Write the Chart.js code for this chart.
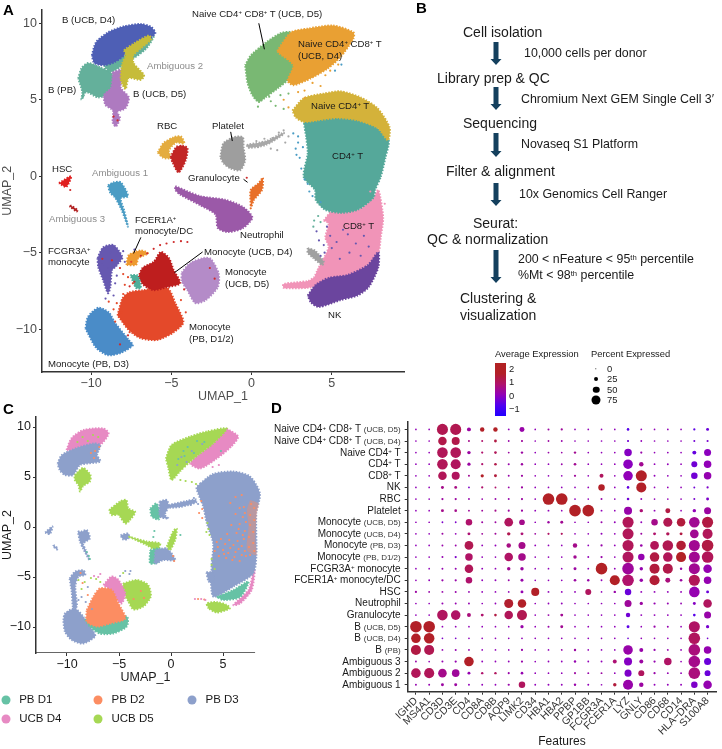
<!DOCTYPE html>
<html>
<head>
<meta charset="utf-8">
<script src="https://cdn.jsdelivr.net/npm/chart.js@4"></script>
<style>
  html, body { margin: 0; padding: 0; background: #fff; }
  #fig { position: relative; width: 722px; height: 749px; overflow: hidden; font-family: "Liberation Sans", Arial, sans-serif; color: #1a1a1a; }
  canvas { position: absolute; }
  #chartA { left: 0; top: 0; }
  #chartC { left: 0; top: 405px; }
  #chartD { left: 380px; top: 415px; }
  .t { position: absolute; white-space: nowrap; line-height: 1; transform: translateY(-50%); }
  .t sup { font-size: 62%; line-height: 0; vertical-align: baseline; position: relative; top: -0.45em; }
  .a { font-size: 9.6px; }
  .g { color: #8c8c8c; }
  .m { font-size: 14px; }
  .s { font-size: 12.4px; }
  .p { font-size: 15px; font-weight: bold; color: #000; }
  .r { font-size: 10px; transform: translate(-100%, -50%); }
  .r small { font-size: 8px; color: #333; }
  .l { font-size: 9.4px; }
  .dot { position: absolute; border-radius: 50%; transform: translate(-50%, -50%); }
  svg { position: absolute; left: 0; top: 0; }
</style>
</head>
<body>
<div id="fig">
  <canvas id="chartA" width="410" height="405"></canvas>
  <canvas id="chartC" width="270" height="285"></canvas>
  <canvas id="chartD" width="342" height="334"></canvas>
  <svg id="arrows" width="722" height="340"></svg>
  <div id="labels"></div>
</div>
<script>
// ===== PANEL A: cluster outlines in UMAP units =====
const bUcbD4 = [[-9.95,7.9],[-9.7,8.75],[-8.95,9.4],[-7.95,9.8],[-6.9,9.95],[-6.25,9.75],[-6,9.35],[-6.4,8.95],[-6.9,8.7],[-7.65,8.45],[-7.95,7.9],[-8.55,7.45],[-9.2,7.25],[-9.8,7.4]];
const bPb = [[-10.8,6.4],[-10.6,7.05],[-10.2,7.4],[-9.4,7.1],[-8.8,6.8],[-8.45,6.3],[-8.95,5.4],[-9.55,5.15],[-10.3,5.5],[-10.6,5],[-10.55,5.5]];
const bPbStrip = [[-9.2,7.2],[-7.95,7.9],[-6.3,9],[-6.1,9.1],[-6.6,8.3],[-7.8,7.4],[-8.8,6.8]];
const ambiguous2 = [[-7.95,8.25],[-7.3,8.7],[-6.4,9.2],[-6.25,8.95],[-6.9,8.35],[-7.35,7.9],[-7.35,7.4],[-6.7,6.6],[-6.9,6.3],[-7.65,6.4],[-7.85,5.7],[-8.15,6.3],[-8.05,7.4],[-7.85,7.9]];
const bUcbD5 = [[-8.65,6.8],[-8.05,6.95],[-8.15,5.8],[-7.65,5.15],[-7.85,4.45],[-8.35,4.2],[-8.2,3.8],[-8.45,3.25],[-8.65,3.5],[-8.65,4.3],[-9.1,4.65],[-9.2,5.3],[-8.75,5.8]];
const naiveD5 = [[-0.4,7.25],[-0.05,7.9],[0.85,8.7],[1.8,9.35],[2.45,9.4],[2.2,8.6],[2.6,7.6],[2.9,7],[2.45,6.45],[1.7,5.8],[0.85,5.15],[0.45,4.85],[0.05,5.3],[-0.25,6.1]];
const naiveD4 = [[1.6,8.2],[2.45,9.4],[3.5,9.65],[5.1,9.85],[6.35,9.4],[6.35,9],[5.55,7.8],[4.75,7.05],[3.7,6.4],[2.6,5.95],[2.25,6.25],[2.6,7.25],[1.7,8.05]];
const naiveCd4 = [[2.55,4.3],[3.25,5.1],[4.5,5.4],[5.55,5.55],[6.8,5.15],[7.85,4.45],[8.6,3.2],[8.5,2.35],[7.85,3.15],[6.6,3.65],[5.35,3.8],[4.1,3.65],[3.25,3.55],[2.75,3.85]];
const cd4T = [[3.25,3.55],[5.35,3.85],[6.6,3.75],[7.85,3.15],[8.55,2.35],[8.35,1.25],[8.05,-0.05],[7.7,-0.9],[7.6,-1.4],[6.6,-2.2],[5.55,-2.4],[4.6,-2.2],[4,-1.55],[3.95,-0.9],[3.25,-0.05],[3.5,1.5],[3.4,2.55]];
const cd8T = [[4.5,-2.9],[5.1,-2.2],[6.6,-2.2],[7.6,-1.4],[7.9,-0.9],[8.2,-2.7],[8.05,-4],[7.9,-5],[7,-6],[5.5,-7],[4,-7.2],[3.5,-7.3],[2,-7.3],[2,-7.05],[3.5,-6.85],[3.9,-6.6],[4.1,-6.15],[4.8,-4.65],[4.6,-4],[4.8,-3.1]];
const nk = [[3.5,-7.8],[4,-7.1],[4.8,-6.65],[6,-6.45],[7.25,-5.8],[7.9,-4.95],[7.9,-5.95],[7.3,-7.25],[6.6,-7.8],[5.55,-8.1],[4.2,-8.55],[3.7,-8.25]];
const greyLump = [[3.5,-4.7],[4,-4.9],[4.5,-5.6],[4.4,-5.8],[3.8,-5.3],[3.5,-5]];
const platelet = [[-1.95,1.25],[-1.75,2.15],[-1.1,2.55],[-0.55,2.55],[-0.5,1.9],[-0.4,1.05],[-0.7,0.4],[-1.3,0.5],[-1.75,0.85]];
const plateletTail = [[-0.3,2.05],[0.9,2.3],[2,2.85],[2,2.75],[0.9,2.05],[-0.2,1.85]];
const rbcOrange = [[-5.85,1.55],[-5.5,2.15],[-4.85,2.55],[-4.4,2.6],[-4.2,2.15],[-4.7,2.2],[-5.15,1.7],[-5.05,1.2],[-5.5,1.2]];
const rbcRed = [[-5.05,1.25],[-4.7,1.9],[-4.3,2],[-4,1.85],[-4.1,1.05],[-4.55,0.25],[-4.9,0.85]];
const hsc = [[-12,-0.45],[-11.25,0],[-11.55,-0.7]];
const ambiguous1 = [[-8.95,-0.6],[-8.6,-0.4],[-8.15,-0.4],[-7.7,-1.3],[-8.15,-1.45],[-7.95,-2.2],[-7.7,-3.3],[-8.1,-2.2],[-8.5,-1.4],[-8.8,-1.1]];
const ambiguous3 = [[-11.3,-1.9],[-10.85,-2.2],[-10.9,-2.3],[-11.3,-2]];
const granulocyte = [[-0.05,-1.9],[-0.05,-0.9],[0.45,-0.45],[0.7,-0.1],[0.65,-0.9],[0.15,-1.55],[-0.05,-2.1]];
const neutrophil = [[-4.75,-0.65],[-3.2,-1.3],[-1.6,-1.55],[-0.55,-2],[0.05,-2.7],[-0.55,-3.4],[-1.45,-3.65],[-2.1,-3.4],[-2.25,-2.5],[-3.2,-1.9],[-4.45,-1.2],[-4.75,-0.9]];
const fcgr3a = [[-9.6,-5.35],[-9.25,-4.65],[-8.6,-4.5],[-8.05,-5.3],[-8.3,-5.7],[-8.5,-5.95],[-8.7,-6.15],[-8.8,-7.25],[-8.95,-7.65],[-9.25,-6.8],[-9.55,-5.95]];
const fcer1a = [[-7.8,-5.8],[-7.65,-5.15],[-6.9,-4.85],[-6.45,-5.05],[-7.05,-5.35],[-7.2,-5.8]];
const tealBit = [[-7.55,-6.45],[-7.1,-6.5],[-6.9,-7.3],[-7.2,-7.3]];
const monoD4 = [[-7.05,-6.6],[-6.8,-6],[-6.1,-5.6],[-5.65,-4.95],[-5.15,-5.35],[-4.85,-6.15],[-4.45,-7],[-5.25,-7.25],[-6.1,-7.45],[-6.75,-7.1]];
const monoD5 = [[-4.35,-6.3],[-3.85,-5.7],[-3,-5.35],[-2.55,-5.4],[-2.05,-6.35],[-2.1,-7.25],[-2.85,-8.1],[-3.5,-8.3],[-4,-7.45],[-4.35,-6.85]];
const monoD12 = [[-8.35,-9.1],[-8.05,-8],[-7.65,-7.6],[-6.75,-7.45],[-5.25,-7.3],[-4.75,-8.3],[-4.25,-9.55],[-4.85,-10.2],[-5.85,-10.7],[-6.9,-10.6],[-7.65,-10.05]];
const monoD3 = [[-10.35,-9.95],[-10.2,-9.2],[-9.55,-8.6],[-8.9,-8.9],[-8.5,-9.6],[-7.65,-10.7],[-7.4,-11.05],[-8.15,-11.55],[-8.95,-11.7],[-9.7,-11.2]];

// loose cells around the clusters
const strayRedA = [[-6.5,-5.05],[-6.1,-4.75],[-5.7,-4.5],[-5.3,-4.4],[-4.85,-4.3],[-4.4,-4.25],[-4,-4.3],[-6.9,-5.2],[-7.3,-6.9],[-7.6,-7.2],[-4.2,-7.4],[-2.6,-6],[-2.3,-6.7],[-8.6,3.9],[-8.35,3.65],[-11.3,-0.9],[-8.2,-6],[-8.7,-5.5],[-9.3,-5.4],[-7.7,-10.4],[-8.2,-11],[-0.3,-0.1]];
const strayOrangeA = [[-8.4,-8.3],[-8.6,-8.7],[-8.1,-8.9],[-7.9,-9.5],[-7.6,-10.2],[-8.9,-8.2],[-7.9,-7.1],[-8,-7.7],[-8.5,-9.5],[-7.4,-7],[-7.7,-6.6],[-8,-6.4],[-7.5,-5.6],[-4.1,-8.9],[-4.4,-8.1]];
const strayPurpleA = [[-9.3,-5.8],[-8.8,-5],[-8.3,-5],[-8,-4.9],[-7.9,-5.6],[-8.5,-7],[-8.6,-7.8],[-9.1,-8],[-8.9,-6],[-8.4,-6.5],[-7.3,-4.8],[4.05,-3.6],[4.2,-4.2],[4.5,-4.5],[4.9,-3.9],[5,-4.7],[4.55,-5],[4.3,-5.2],[5.3,-4.3],[6,-3.8],[6.5,-4.4],[7,-3.9],[6.1,-5],[7.3,-4.6],[5.5,-5.4],[6.8,-5.2],[4.7,-3.3],[5.7,-3.5]];
const strayOrangeT = [[3.8,6.1],[4.3,5.9],[3.3,5.6],[2.9,5.5],[3.3,5.1],[2,5],[2.3,4.5],[4.6,6.6],[4.9,6.9],[5.4,7.3]];
const strayGreenT = [[1.2,4.9],[1.5,4.6],[2,4.4],[1.1,5.2],[1.8,5.3],[2.3,5.4],[0.4,4.55]];
const strayBlueT = [[2.6,2.8],[2.9,2.2],[2.75,1.8],[3,1.2],[3.1,0.5],[3.3,-0.2],[3.5,-0.5],[2.9,2.6],[3.2,1.9],[2.8,1.4],[3.6,-1],[3.8,-1.3],[4.3,-1.7],[5.2,6.9],[5.6,7.3]];
const strayTeal = [[3.9,-2.9],[3.85,-3.3],[4.15,-2.6],[4.3,-3],[-10.5,5.2]];
const strayGrey = [[0.3,2.3],[0.8,2.45],[1.3,2.5],[1.7,2.85],[2,3],[1.2,1.8],[1.6,1.7],[0.4,1.9],[2.1,2.2],[2.3,2.6]];
const strayPinkA = [[3,-7.2],[2.4,-7.25],[8.3,-1.8],[8,-3.2],[7.4,-1],[5,-2.5]];

// leader lines
const leaderNaive = [[0.45,10],[0.8,8.3]];
const leaderPlatelet = [[-1.3,2.9],[-1.2,2.3]];
const leaderGranulocyte = [[-0.5,-0.2],[-0.25,-0.4]];
const leaderFcer1a = [[-6.9,-4],[-7.35,-5.05]];
const leaderMono = [[-3.05,-4.95],[-4.8,-6.3]];

// ===== PANEL C: donor regions =====
const donorColors = { d1: '#66C2A5', d2: '#FC8D62', d3: '#8DA0CB', d4: '#E78AC3', d5: '#A6D854' };
const cBPink = [[-10.05,7.7],[-9.55,8.9],[-8.4,9.7],[-6.5,9.85],[-6,9.35],[-6.65,8.35],[-7.8,7.7],[-9.05,7.7]];
const cBBlue = [[-10.9,6.35],[-10.5,7.2],[-9.05,7.9],[-7.45,8.35],[-6.8,8.2],[-7.1,7.2],[-6.8,6.55],[-8.75,6.2],[-9.4,5.2],[-10.2,5.2],[-10.7,5.7]];
const cBGreen = [[-9.25,5.2],[-8.45,5.9],[-7.75,5.2],[-7.8,4.55],[-8.45,4.1],[-8.75,3.55],[-8.9,4.2],[-9.25,4.7]];
const cNaiveGreen = [[-0.5,6.85],[0.05,8.2],[1.85,9.05],[3.45,9.55],[5.35,9.85],[4.05,8.35],[2.8,7.35],[1.85,6.55],[0.85,5.55],[0.05,4.7],[-0.25,5.85]];
const cNaivePink = [[5.35,9.85],[6.45,9.05],[5.8,8.05],[4.4,6.85],[2.8,5.85],[1.85,6.35],[2.8,7.35],[4.05,8.35]];
const cTBlue = [[2.8,4.35],[4.05,5.3],[6,5.55],[7.6,5.05],[8.55,3.35],[8.2,1.35],[8.2,-2.95],[7.9,-4.65],[6,-5.95],[4.05,-6.95],[3.9,-3.95],[4.05,-1.65],[3.45,0.35],[3.1,2.05],[2.45,3.9]];
const cTOrange = [[7.6,2.7],[8.4,2.35],[8.25,1.35],[8.1,-1.3],[8.2,-2.8],[7.3,-2.3],[7.45,0.05],[7.3,1.7]];
const cNkPink = [[7.9,-4.5],[7.45,-6.3],[6,-7.8],[6.65,-7.65],[7.75,-6.3],[8.05,-4.4]];
const cNkTeal = [[4.4,-7],[6,-6.3],[7.45,-5.45],[6.65,-7],[5.05,-7.3]];
const cNkGreen = [[3.6,-8.15],[3.45,-7.65],[4.4,-7.5],[5.35,-7.8],[5.65,-8.15],[4.4,-8.55]];
const cBlueLump = [[3.4,-4.5],[4,-4.6],[4,-5.7],[3.6,-5.4]];
const cPlateletTeal = [[-2,1.85],[-1.4,2.35],[-1.05,1.35],[-1.2,0.75],[-1.85,1.05]];
const cPlateletBlue = [[-1.1,2.55],[-0.4,2.7],[-0.25,2.05],[-0.6,1.2],[-0.25,0.85],[-1.05,1.05]];
const cPlateletTail = [[-0.25,2.2],[1.5,2.6],[2.4,2.75],[2.4,2.45],[0.85,2],[-0.25,1.95]];
const cRbcGreen = [[-5.95,1.7],[-4.9,2.55],[-4.3,2.7],[-4.1,1.85],[-3.45,1.5],[-3.95,0.7],[-4.4,0.35],[-5.05,1.2],[-5.7,1.2]];
const cNeutroBlue = [[-4.85,-0.8],[-4.1,-0.65],[-4.1,-1.15],[-4.6,-1.25]];
const cNeutroGreen = [[-4.1,-0.95],[-2.35,-1.45],[-1.05,-1.65],[-1.4,-2.3],[-2.35,-1.8]];
const cNeutroTeal = [[-2,-2.3],[-1.05,-2.15],[-1.2,-3.45],[-2,-3.65]];
const cNeutroOrange = [[-1.5,-2.3],[-0.4,-2.15],[0.4,-3.3],[-0.75,-3.3],[-1.55,-3.65]];
const cGranGreen = [[-0.4,-1.95],[0.2,-0.45],[0.55,-0.15],[0.4,-1.3],[-0.1,-2.3]];
const cAmbig1 = [[-8.95,-0.45],[-8.55,-0.45],[-8.1,-0.3],[-7.8,-1.15],[-8.45,-1.65],[-8.2,-2.3],[-7.85,-3.3],[-8.45,-2.15],[-8.75,-1.45]];
const cHsc = [[-12.1,-0.55],[-11.4,0.05],[-11.65,-0.7]];
const cAmbig3 = [[-11.3,-1.8],[-10.9,-2.15],[-10.95,-2.25],[-11.3,-1.95]];
const cRing = [[-9.75,-5.15],[-9.2,-4.45],[-8.4,-4.35],[-8.25,-4.8],[-8.9,-4.95],[-9.2,-5.95],[-9.05,-7.95],[-9.4,-8.15],[-9.55,-6.45]];
const cMonoBlue = [[-10.35,-9.3],[-10.2,-8.65],[-9.25,-8.15],[-8.45,-8.95],[-7.45,-10.45],[-7.3,-10.95],[-8.45,-11.65],[-9.55,-11.3],[-10.2,-10.45]];
const cMonoTeal = [[-8.25,-9.3],[-7.3,-8.65],[-4.25,-8.95],[-4.25,-9.95],[-5.55,-10.65],[-6.85,-10.65],[-7.8,-9.95]];
const cMonoOrange = [[-8.1,-8.3],[-7.45,-6.95],[-6.85,-6.15],[-5.7,-6.3],[-5.05,-7.65],[-4.4,-9.15],[-5.85,-9.65],[-7.15,-9.95],[-8.1,-9.45]];
const cMonoPink = [[-6.5,-5.8],[-5.7,-4.95],[-5.05,-5.3],[-4.4,-6.65],[-4.75,-7.65],[-5.2,-7.3],[-5.85,-6.3]];
const cMonoGreen = [[-4.6,-5.65],[-3.3,-5.3],[-2.2,-5.8],[-1.95,-6.95],[-2.65,-7.95],[-3.6,-8.25],[-4.1,-7.45],[-4.6,-6.45]];
const cAxisLine = [[-12.98,-12.6],[8.08,-12.6]];

const cStrayOrange = [[4.4,-1.5],[4.8,-1.2],[5.2,-1.7],[5.6,-1.3],[6,-1.8],[6.4,-1.4],[6.8,-1.9],[7,-1.2],[5,-2.3],[5.5,-2.6],[6.2,-2.5],[6.8,-2.8],[7.2,-2.9],[4.6,-2.9],[5.3,-3.1],[5.9,-3.3],[6.6,-3.4],[7.1,-0.4],[6.6,0.3],[6.9,1],[6.3,-0.6],[5.8,0.2],[7,2],[6.6,1.9],[6.2,3],[5.7,2.4],[6.8,3.2],[4.5,-2],[4.2,-2.4],[5.1,-2.7],[5.7,-2.1],[6.5,-2.2],[7.1,-2.4],[6.1,-3],[6.9,-0.8],[6.5,-0.2],[7.2,0.5],[6.2,1.3],[7.1,1.4],[5.4,-0.7],[7.7,2.3],[8,1.9],[7.6,1.2],[8,0.7],[7.6,0.2],[7.9,-0.5],[7.5,-1],[7.9,-1.6],[7.5,-2],[8,-2.4],[7.6,-2.8],[3,1.8],[2.9,2.6],[3,0.9],[2.7,1.4],[2.6,-7.2],[3.2,-7.25],[-6.9,8],[-7.3,7.6],[-7.7,7.4],[-7.4,6.9],[-8.7,-4.6],[-8.5,-5.6],[-8,-6.8],[-2.9,-6.4],[-3.6,-7.2],[-2.6,-7.1],[0.2,-2.9],[0.3,-3.4]];
const cStrayGreen = [[3.6,-0.2],[3.5,0.4],[3.7,-0.8],[3.4,-0.5],[3.9,-3.8],[3.9,-3.2],[4.2,-4.2],[0.9,4.7],[1.4,4.6],[2,4.5],[2.4,4.3],[-8.5,9],[-8,8.6],[-7.5,9.2],[-9,8.5],[-7,9],[-8.9,-5.3],[-8.6,-6.2],[-8.3,-5.5],[-7.7,-5.1],[-7.2,-5.2],[-6.8,-5.5],[-4.6,-4.6]];
const cStrayBlue = [[1.5,6.5],[2,7.6],[1,7],[3,8.3],[0.6,6.2],[2.6,2.3],[2.2,2.9],[1.9,2.2],[-8.6,-7],[-8.2,-7.5],[-8.9,-7.3],[-8,-6],[-7.6,-8.2],[-4.9,-4.9],[-4.4,-4.4],[-4,-4.7],[-3.9,-4.4]];
const cStrayPink = [[-7.4,-4.9],[-6.8,-4.7],[-7,-5],[3.3,-7.3],[2.9,-7.2],[2.3,-7.2],[4.6,6.2],[4,6]];
const cStrayTeal = [[-7.9,-2.9],[-8.1,-2.5],[-7.8,-3.2],[-1.7,-1],[-1.6,-0.4],[0.9,-0.8],[4.8,7.6],[1.2,7.6],[1.6,8],[2.5,8.6],[0.7,6.8],[1.3,7.1],[2.2,7.4],[3.2,8.5]];

// ===== PANEL D: dot plot =====
const features = ['IGHD','MS4A1','CD3D','CD3E','CD4','CD8A','CD8B','AQP9','LIMK2','CD34','HBA1','HBA2','PPBP','GP1BB','FCGR3A','FCER1A','LYZ','GNLY','CD86','CD68','CD14','HLA\u2212DRA','S100A8'];
const identities = [
  'Naive CD4<sup>+</sup> CD8<sup>+</sup> T <small>(UCB, D5)</small>',
  'Naive CD4<sup>+</sup> CD8<sup>+</sup> T <small>(UCB, D4)</small>',
  'Naive CD4<sup>+</sup> T',
  'CD4<sup>+</sup> T',
  'CD8<sup>+</sup> T',
  'NK',
  'RBC',
  'Platelet',
  'Monocyte <small>(UCB, D5)</small>',
  'Monocyte <small>(UCB, D4)</small>',
  'Monocyte <small>(PB, D3)</small>',
  'Monocyte <small>(PB, D1/2)</small>',
  'FCGR3A<sup>+</sup> monocyte',
  'FCER1A<sup>+</sup> monocyte/DC',
  'HSC',
  'Neutrophil',
  'Granulocyte',
  'B <small>(UCB, D5)</small>',
  'B <small>(UCB, D4)</small>',
  'B <small>(PB)</small>',
  'Ambiguous 3',
  'Ambiguous 2',
  'Ambiguous 1'
];
// percent expressed, one row per identity
const percentRows = [
  [3,3,95,95,25,30,30,4,35,3,6,8,3,3,3,3,12,4,3,4,3,8,15],
  [3,3,70,65,6,6,14,4,8,3,4,5,3,3,3,3,8,4,3,3,3,6,7],
  [3,3,90,90,20,8,12,4,10,3,4,3,10,3,3,3,60,8,3,4,3,25,55],
  [3,3,90,85,18,8,12,6,10,3,3,5,12,3,3,3,80,30,4,5,3,45,60],
  [3,3,70,65,6,18,15,5,8,3,3,3,8,3,25,3,80,95,5,4,3,50,60],
  [3,3,15,14,4,8,5,4,8,3,3,3,3,3,50,3,12,85,3,3,3,5,8],
  [3,3,8,8,5,4,5,5,8,4,100,100,4,3,6,3,12,5,3,3,3,6,15],
  [3,3,15,12,5,5,7,7,8,4,5,3,100,100,5,3,65,20,5,35,3,20,55],
  [3,3,4,4,50,6,5,72,42,3,10,15,3,3,6,5,95,5,50,75,70,90,95],
  [3,3,6,4,15,5,6,20,15,4,8,8,3,3,6,4,95,6,15,20,15,72,85],
  [3,3,5,5,72,4,5,30,55,4,3,3,30,3,8,4,95,12,72,90,80,95,100],
  [3,3,6,8,60,4,3,70,60,3,3,3,20,5,8,3,95,50,80,80,85,95,100],
  [3,3,5,6,70,4,4,20,20,3,3,3,15,4,100,4,100,20,85,85,10,95,70],
  [3,4,8,8,50,4,5,5,15,3,3,3,12,10,4,85,100,20,85,35,12,95,60],
  [8,5,5,6,5,4,4,4,15,65,5,5,5,45,3,10,50,5,5,5,5,90,15],
  [3,3,6,6,5,3,4,75,70,3,4,5,3,3,3,3,55,18,8,6,4,15,70],
  [3,3,90,80,25,15,12,70,85,3,5,15,3,3,3,3,30,5,5,5,4,12,55],
  [100,100,4,4,3,3,3,3,18,3,6,15,3,3,3,3,15,3,8,5,3,95,18],
  [80,90,3,3,3,3,3,3,4,3,3,3,3,3,3,3,3,3,3,3,3,100,3],
  [85,85,4,6,5,3,3,3,8,3,3,4,10,3,3,3,80,25,8,5,4,100,60],
  [5,3,6,8,80,4,4,4,8,3,4,4,10,4,5,25,65,25,8,60,3,100,55],
  [80,85,70,60,15,10,10,6,12,3,3,3,6,5,5,3,55,45,8,5,4,100,45],
  [5,5,15,15,5,4,4,8,50,4,5,5,10,5,3,20,85,30,5,5,5,50,70]
];
// average expression, same shape
const expressionRows = [
  [0,0,1.4,1.4,0.3,2,2.1,0,0.2,0,0.3,0.4,0,0,0,0,-0.9,0,0,0,0,-0.8,-0.6],
  [0,0,1.5,1.5,0.6,1,1.6,0.2,0.4,0,0.3,0.2,0,0,0,0,-0.5,0,0,0,0,-0.5,-0.4],
  [0,0,1.3,1.3,0.3,1,1.3,0.3,0.3,0,0.2,0.2,0.5,0,0,0,-0.2,0.2,0,0,0,-0.7,-0.1],
  [0,0,1.3,1.2,0.3,1,1.5,0.2,0.3,0,0,0.2,0.5,0,0,0,-0.1,0.5,0,0,0,-0.5,0],
  [0,0,1.3,1.2,0.5,2,1.7,0.2,0.3,0,0,0,0.4,0,1.2,0,0,2,0,0,0,-0.5,0.1],
  [0,0,0.6,0.7,-0.3,1,1,0.2,0.3,0,0,0,0,0,2,0,-0.7,2,0,0,0,-0.5,-0.3],
  [0,0,0.3,0.3,0.2,0.2,0.2,0.2,0.3,0,2.1,2.1,0,0,0.2,0,-0.5,0,0,0,0,-0.4,-0.3],
  [0,0,0.6,0.6,0.4,0.4,0.6,0.3,0.3,0,0,0,2.1,2.1,0,0,0.2,0.9,0,1.6,0,0,0.3],
  [0,0,-0.3,-0.3,1,0.3,0.3,1.2,0.6,0,0.3,0.5,0,0,0.2,0,1.3,0,0.6,1.4,1.7,0.5,1.6],
  [0,0,0.3,0,0.9,0.4,0.4,1.4,0.9,0.3,1.1,1.2,0,0,0,0,1.3,0.3,1,1.3,1.6,0.5,1.3],
  [0,0,0.2,0.2,1.4,0,0,0.7,0.6,0,0,0,0.6,0,0.2,0,1.3,0.2,1.3,1.4,1.8,0.5,1.6],
  [0,0,0.1,-0.3,1.1,0,0,1.1,0.6,0,0,0,0.5,0,0.2,0,1.2,0.1,1.6,1.3,2.1,0.5,1.3],
  [0,0,0.1,0.1,1.3,0,0,0.5,0.3,0,0,0,0.3,0,2.1,0,0.4,0.1,1.7,1.5,0.2,0.5,0.1],
  [0,0,0.2,0.2,1,0,0,0.2,0.2,0,0,0,0.3,0.2,0,2.1,1,0.2,1.8,0.8,0.3,1.3,0.1],
  [0.3,0.2,0.2,0.2,0.1,0,0,0,0.1,2,0,0,0,1.2,0,0.2,-0.6,0,0,0,0,0.1,-0.6],
  [0,0,0.1,0.1,0.1,0,0,1.9,2,0,0,0,0,0,0,0,0.4,0.3,0.1,0.1,0.1,-0.2,1.2],
  [0,0,1.2,1.1,0.8,1,1.6,1.3,1.4,0,0.2,0.5,0,0,0,0,-0.5,0,0,0,0,-0.9,0.2],
  [2,2,0,0,0,0,0,0,0.2,0,0.2,0.5,0,0,0,0,-0.8,0,0.2,0.1,0,1.1,-0.4],
  [2,2,-0.3,-0.3,0,0,0,0,0,0,0,0,0,0,0,0,-0.5,0,0,0,0,1.2,-0.4],
  [1.6,1.4,0.1,0.1,0.1,0,0,0,0.2,0,0,0.2,0.3,0,0,0,0.2,0.2,0.1,0.1,0,0.8,0.1],
  [0.2,0,0.1,0.1,2,0,0,0,0.2,0,0,0,0.1,0,0,0.9,-0.2,0.3,0.1,1.1,0,0.6,-0.6],
  [1.3,1.3,0.6,0.4,0.1,1,1.2,0.2,0.1,0,0,0,0.3,0.2,0.3,0,-0.3,1.2,0.2,0.1,0,0.8,-0.6],
  [0.1,0.1,0.3,0.3,0,0,0,0.2,1.2,0,0,0,0.2,0,0,1.7,0.2,0.3,0,0,0,-0.3,0.1]
];

const legendPercents = [0, 25, 50, 75];
const legendExpression = [2, 1, 0, -1];

// ===== HELPERS =====
const FONT = '"Liberation Sans", Arial, sans-serif';

function dotRadius(pct) { return 0.7 + pct * 0.051; }

// blue -> purple -> crimson, same ramp as the colour bar
const ramp = [[-1.3,[32,0,255]],[-1,[80,0,240]],[0,[146,0,184]],[1,[176,18,108]],[2,[178,32,40]],[2.3,[178,34,34]]];
function exprColor(v) {
  for (let i = 1; i < ramp.length; i++) {
    if (v <= ramp[i][0]) {
      const [a, ca] = ramp[i - 1], [b, cb] = ramp[i];
      const f = Math.max(0, (v - a) / (b - a));
      const c = ca.map((k, j) => Math.round(k + (cb[j] - k) * f));
      return `rgb(${c[0]},${c[1]},${c[2]})`;
    }
  }
  return 'rgb(178,34,34)';
}

function blob(points, color) {
  return {
    data: points.concat([points[0]]),
    showLine: true, fill: 'shape', tension: 0.25, clip: false,
    backgroundColor: color, borderColor: color,
    borderWidth: 2, borderDash: [1.5, 1.5],
    pointRadius: 0
  };
}
function stray(points, color, radius) {
  return { data: points, showLine: false, clip: false, pointRadius: radius || 1.1, pointBackgroundColor: color, pointBorderWidth: 0 };
}
function leader(points, color, width) {
  return { data: points, showLine: true, borderColor: color || '#000', borderWidth: width || 1, pointRadius: 0, fill: false };
}
const minusTick = v => String(v).replace('-', '\u2212');

function umapChart(id, datasets, o) {
  return new Chart(document.getElementById(id), {
    type: 'scatter',
    // chart.js paints the first dataset last, the lists below run bottom to top
    data: { datasets: datasets.reverse() },
    options: {
      responsive: false, animation: false, devicePixelRatio: 1,
      layout: { padding: o.padding },
      plugins: { legend: { display: false }, tooltip: { enabled: false } },
      scales: {
        x: {
          min: o.xMin, max: o.xMax,
          afterFit: s => { s.height = o.xHeight; },
          grid: { drawOnChartArea: false, tickLength: 3, tickColor: '#333', tickWidth: 1 },
          border: { display: o.xBorder, color: '#333', width: 1.5 },
          ticks: { stepSize: 5, includeBounds: false, color: o.tickColor, padding: 1, maxRotation: 0, font: { family: FONT, size: 12.5 }, callback: minusTick },
          title: { display: false }
        },
        y: {
          min: o.yMin, max: o.yMax,
          afterFit: s => { s.width = o.yWidth; },
          grid: { drawOnChartArea: false, tickLength: 3, tickColor: '#333', tickWidth: 1 },
          border: { color: '#333', width: 1.5 },
          ticks: { stepSize: 5, includeBounds: false, color: o.tickColor, padding: 2, font: { family: FONT, size: 12.5 }, callback: minusTick },
          title: { display: true, text: 'UMAP_2', color: o.tickColor, padding: { top: 0, bottom: 0 }, font: { family: FONT, size: 12.5 } }
        }
      }
    }
  });
}

// ===== CHART A =====
umapChart('chartA', [
  blob(monoD3, '#4A8CC8'),
  blob(monoD12, '#E4492A'),
  blob(monoD5, '#B48BC8'),
  blob(monoD4, '#BE1E1E'),
  blob(fcgr3a, '#6658B0'),
  blob(fcer1a, '#EE9A30'),
  blob(tealBit, '#4DAF9A'),
  blob(bPb, '#64B09B'),
  blob(bPbStrip, '#64B09B'),
  blob(bUcbD4, '#4E5FB5'),
  blob(bUcbD5, '#AE7AC0'),
  blob(ambiguous2, '#C6BC3A'),
  blob(naiveD5, '#79B873'),
  blob(naiveD4, '#E9A033'),
  blob(cd8T, '#F194B8'),
  blob(cd4T, '#55A89A'),
  blob(naiveCd4, '#D4B23A'),
  blob(nk, '#6B459E'),
  blob(greyLump, '#A0A0A0'),
  blob(platelet, '#9E9E9E'),
  blob(plateletTail, '#A8A8A8'),
  blob(rbcOrange, '#E4AC3E'),
  blob(rbcRed, '#C22626'),
  blob(hsc, '#E02020'),
  blob(ambiguous1, '#4A9CC4'),
  blob(ambiguous3, '#B22222'),
  blob(granulocyte, '#E8702A'),
  blob(neutrophil, '#9B59A8'),
  stray(strayRedA, '#CE2B2B'),
  stray(strayOrangeA, '#E4492A'),
  stray(strayPurpleA, '#6658B0'),
  stray(strayOrangeT, '#E9A033'),
  stray(strayGreenT, '#79B873'),
  stray(strayBlueT, '#4A9CC4'),
  stray(strayTeal, '#64B09B'),
  stray(strayGrey, '#A8A8A8'),
  stray(strayPinkA, '#F194B8'),
  leader(leaderNaive), leader(leaderPlatelet), leader(leaderGranulocyte), leader(leaderFcer1a), leader(leaderMono)
], {
  padding: { top: 9, right: 6, left: 0, bottom: 0 },
  xMin: -13.06, xMax: 9.5, yMin: -12.8, yMax: 10.9,
  xHeight: 33, yWidth: 42, tickColor: '#4d4d4d', xBorder: true
});

// ===== CHART C =====
// the x range runs past the drawn axis so the T cell cloud can overhang it, as in the figure
umapChart('chartC', [
  blob(cMonoBlue, donorColors.d3),
  blob(cRing, donorColors.d3),
  blob(cMonoTeal, donorColors.d1),
  blob(cMonoGreen, donorColors.d5),
  blob(cMonoPink, donorColors.d4),
  blob(cMonoOrange, donorColors.d2),
  blob(cBPink, donorColors.d4),
  blob(cBBlue, donorColors.d3),
  blob(cBGreen, donorColors.d5),
  blob(cNaivePink, donorColors.d4),
  blob(cNaiveGreen, donorColors.d5),
  blob(cNkPink, donorColors.d4),
  blob(cNkGreen, donorColors.d5),
  blob(cTBlue, donorColors.d3),
  blob(cNkTeal, donorColors.d1),
  { ...blob(cTOrange, 'rgba(252,141,98,0.4)'), borderWidth: 0 },
  blob(cBlueLump, donorColors.d3),
  blob(cPlateletTeal, donorColors.d1),
  blob(cPlateletBlue, donorColors.d3),
  blob(cPlateletTail, donorColors.d3),
  blob(cRbcGreen, donorColors.d5),
  blob(cNeutroBlue, donorColors.d3),
  blob(cNeutroGreen, donorColors.d5),
  blob(cNeutroTeal, donorColors.d1),
  blob(cNeutroOrange, donorColors.d3),
  blob(cGranGreen, donorColors.d5),
  blob(cAmbig1, donorColors.d3),
  blob(cHsc, donorColors.d3),
  blob(cAmbig3, donorColors.d3),
  stray(cStrayOrange, donorColors.d2),
  stray(cStrayGreen, donorColors.d5),
  stray(cStrayBlue, donorColors.d3),
  stray(cStrayPink, donorColors.d4),
  stray(cStrayTeal, donorColors.d1),
  leader(cAxisLine, '#333', 1.5)
], {
  padding: { top: 12, right: 9, left: 0, bottom: 0 },
  xMin: -12.98, xMax: 8.65, yMin: -12.6, yMax: 11,
  xHeight: 37, yWidth: 36, tickColor: '#1a1a1a', xBorder: false
});

// ===== CHART D =====
const dotPoints = [], dotColors = [];
identities.forEach((_, r) => features.forEach((_, c) => {
  dotPoints.push({ x: c, y: r, r: dotRadius(percentRows[r][c]) });
  dotColors.push(exprColor(expressionRows[r][c]));
}));

const chartD = new Chart(document.getElementById('chartD'), {
  type: 'bubble',
  data: { datasets: [{ data: dotPoints, backgroundColor: dotColors, borderWidth: 0 }] },
  options: {
    responsive: false, animation: false, devicePixelRatio: 1,
    layout: { padding: { top: 6.7, right: 1.3, left: 0, bottom: 0 } },
    plugins: { legend: { display: false }, tooltip: { enabled: false } },
    scales: {
      x: {
        type: 'linear', min: -0.62, max: 22.65,
        afterFit: s => { s.height = 57.3; },
        grid: { drawOnChartArea: false, tickLength: 3, tickColor: '#333' },
        border: { color: '#333', width: 1.5 },
        ticks: { stepSize: 1, includeBounds: false, autoSkip: false, minRotation: 45, maxRotation: 45, padding: 0, color: '#333', font: { family: FONT, size: 10.4 }, callback: v => features[v] },
        title: { display: true, text: 'Features', color: '#1a1a1a', padding: 0, font: { family: FONT, size: 12 } }
      },
      y: {
        type: 'linear', reverse: true, min: -0.62, max: 22.6,
        afterFit: s => { s.width = 27.7; },
        grid: { drawOnChartArea: false, tickLength: 3, tickColor: '#333' },
        border: { color: '#333', width: 1.5 },
        ticks: { stepSize: 1, includeBounds: false, autoSkip: false, padding: 0, callback: () => '' }
      }
    }
  }
});

// ===== TEXT =====
const labels = document.getElementById('labels');
function text(cls, x, y, html, style) {
  const el = document.createElement('div');
  el.className = 't ' + cls;
  el.style.left = x + 'px';
  el.style.top = y + 'px';
  if (style) el.style.cssText += style;
  el.innerHTML = html;
  labels.appendChild(el);
  return el;
}

// panel letters
text('p', 3, 9, 'A'); text('p', 416, 7, 'B'); text('p', 3, 408, 'C'); text('p', 271, 407, 'D');

// x axis titles, centred under the axis as drawn
text('', 223, 396, 'UMAP_1', 'font-size:12.5px;color:#4d4d4d;transform:translate(-50%,-50%)');
text('', 145.5, 677, 'UMAP_1', 'font-size:12.5px;color:#1a1a1a;transform:translate(-50%,-50%)');

// panel A annotations
text('a', 62, 20, 'B (UCB, D4)');
text('a g', 147, 66, 'Ambiguous 2');
text('a', 48, 90, 'B (PB)');
text('a', 133, 94, 'B (UCB, D5)');
text('a', 157, 126, 'RBC');
text('a', 52, 169, 'HSC');
text('a g', 92, 173, 'Ambiguous 1');
text('a', 212, 126, 'Platelet');
text('a', 188, 178, 'Granulocyte');
text('a g', 49, 219, 'Ambiguous 3');
text('a', 135, 220, 'FCER1A<sup>+</sup>');
text('a', 135, 231, 'monocyte/DC');
text('a', 48, 251, 'FCGR3A<sup>+</sup>');
text('a', 48, 262, 'monocyte');
text('a', 204, 252, 'Monocyte (UCB, D4)');
text('a', 225, 272, 'Monocyte');
text('a', 225, 284, '(UCB, D5)');
text('a', 189, 327, 'Monocyte');
text('a', 189, 339, '(PB, D1/2)');
text('a', 48, 364, 'Monocyte (PB, D3)');
text('a', 240, 235, 'Neutrophil');
text('a', 328, 315, 'NK');
text('a', 343, 226, 'CD8<sup>+</sup> T');
text('a', 332, 156, 'CD4<sup>+</sup> T');
text('a', 311, 106, 'Naive CD4<sup>+</sup> T');
text('a', 298, 44, 'Naive CD4<sup>+</sup> CD8<sup>+</sup> T');
text('a', 298, 56, '(UCB, D4)');
text('a', 192, 14, 'Naive CD4<sup>+</sup> CD8<sup>+</sup> T (UCB, D5)');

// panel B workflow
const steps = [[463,32,'Cell isolation'],[437,78,'Library prep &amp; QC'],[463,123,'Sequencing'],[446,171,'Filter &amp; alignment'],[473,223,'Seurat:'],[427,239,'QC &amp; normalization'],[460,298,'Clustering &amp;'],[460,315,'visualization']];
const notes = [[524,53,'10,000 cells per donor'],[521,99,'Chromium Next GEM Single Cell 3\u2032'],[521,144,'Novaseq S1 Platform'],[519,194,'10x Genomics Cell Ranger'],[518,259,'200 &lt; nFeature &lt; 95<sup>th</sup> percentile'],[518,275,'%Mt &lt; 98<sup>th</sup> percentile']];
steps.forEach(s => text('m', s[0], s[1], s[2]));
notes.forEach(s => text('s', s[0], s[1], s[2]));

const arrowSpans = [[42,65],[87,110],[133,157],[183,206],[250,283]];
document.getElementById('arrows').innerHTML = arrowSpans.map(([a, b]) =>
  `<path d="M493.5 ${a}H498.5V${b - 6}H501.5L496 ${b}L490.5 ${b - 6}H493.5Z" fill="#14405E"/>`).join('');

// panel C legend
const donorLegend = [[5.7,700,'PB D1','d1'],[98,700,'PB D2','d2'],[192,700,'PB D3','d3'],[5.7,719,'UCB D4','d4'],[98,719,'UCB D5','d5']];
donorLegend.forEach(([x, y, name, key]) => {
  const d = document.createElement('div');
  d.className = 'dot';
  d.style.cssText = `left:${x}px;top:${y}px;width:9px;height:9px;background:${donorColors[key]}`;
  labels.appendChild(d);
  text('', x + 13.5, y, name, 'font-size:11.5px');
});

// panel D row labels, placed from the chart's own y scale
identities.forEach((name, r) => {
  const top = 415 + chartD.scales.y.getPixelForValue(r);
  text('r', 400.7, top, name);
});

// panel D legends
text('l', 495, 354, 'Average Expression');
text('l', 591, 354, 'Percent Expressed');
const bar = document.createElement('div');
bar.style.cssText = 'position:absolute;left:495px;top:363px;width:10.5px;height:53px;background:linear-gradient(to bottom,' +
  [2.3, 2, 1, 0, -1, -1.3].map(exprColor).join(',') + ')';
labels.appendChild(bar);
legendExpression.forEach((v, i) => text('l', 509, 369 + i * 13.4, minusTick(v)));
legendPercents.forEach((p, i) => {
  const y = 369 + i * 10.4, r = dotRadius(p);
  const d = document.createElement('div');
  d.className = 'dot';
  d.style.cssText = `left:596px;top:${y}px;width:${2 * r}px;height:${2 * r}px;background:#000`;
  labels.appendChild(d);
  text('l', 607, y, String(p));
});
</script>
</body>
</html>
